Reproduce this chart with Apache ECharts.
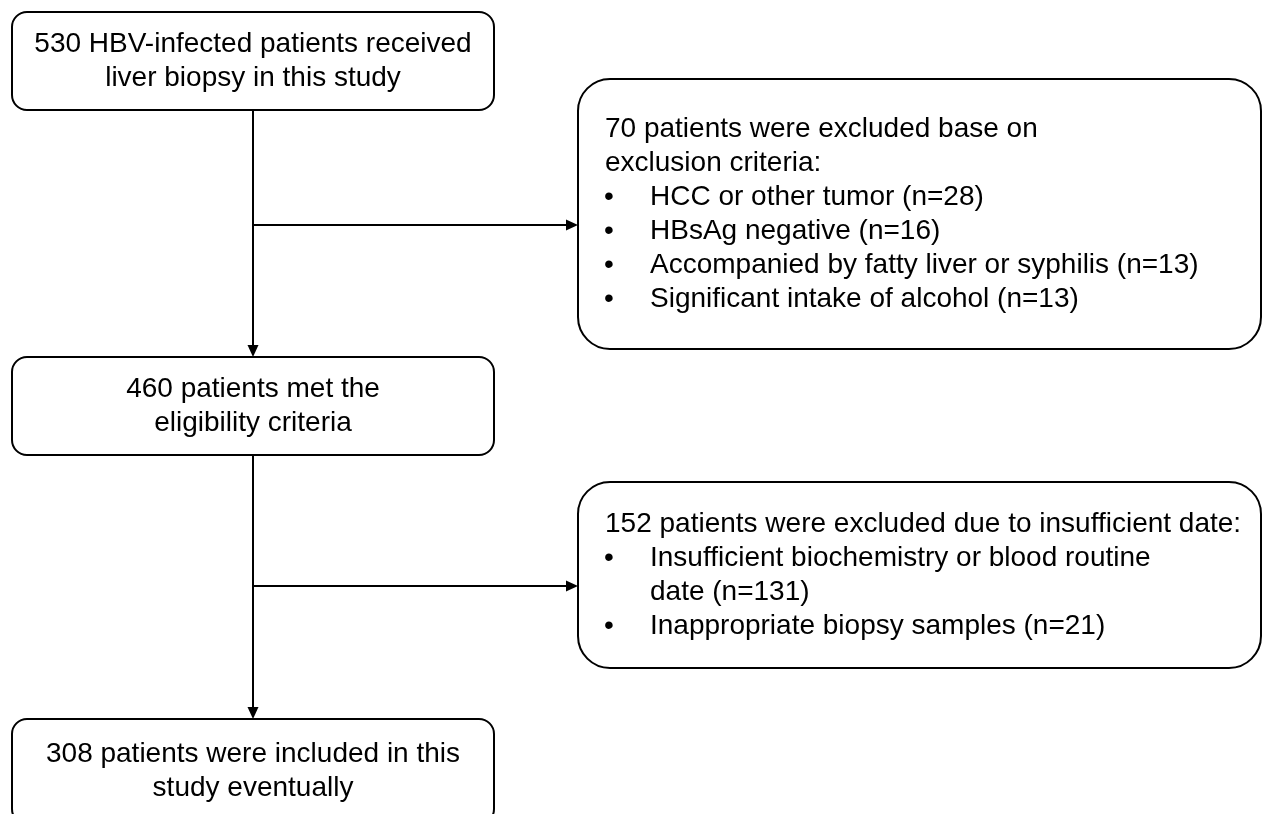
<!DOCTYPE html>
<html>
<head>
<meta charset="utf-8">
<title>Study flow</title>
<script src="https://cdn.jsdelivr.net/npm/echarts@6/dist/echarts.min.js"></script>
<style>
    html, body { margin: 0; padding: 0; background: #fff; }
    #chart { width: 1262px; height: 814px; }
</style>
</head>
<body>
<div id="chart"></div>
<script>
// main steps (left column)
var stepLabels = [
    '530 HBV-infected patients received\nliver biopsy in this study',
    '460 patients met the\neligibility criteria',
    '308 patients were included in this\nstudy eventually'
];
var stepLeft = [12, 12, 12];
var stepRight = [494, 494, 494];
var stepTop = [12, 357, 719];
var stepBottom = [110, 455, 824];

// exclusion boxes (right column)
var exclLines = [
    ['70 patients were excluded base on',
     'exclusion criteria:',
     '• HCC or other tumor (n=28)',
     '• HBsAg negative (n=16)',
     '• Accompanied by fatty liver or syphilis (n=13)',
     '• Significant intake of alcohol (n=13)'],
    ['152 patients were excluded due to insufficient date:',
     '• Insufficient biochemistry or blood routine',
     '  date (n=131)',
     '• Inappropriate biopsy samples (n=21)']
];
var exclLeft = [578, 578];
var exclRight = [1261, 1261];
var exclTop = [79, 482];
var exclBottom = [349, 668];

// arrows: start and end (tip)
var arrowFrom = [[253, 110], [253, 225], [253, 455], [253, 586]];
var arrowTo = [[253, 357], [578, 225], [253, 719], [578, 586]];

var FONT = '28px "Liberation Sans", Arial, sans-serif';
var LINE_H = 34;

var chart = echarts.init(document.getElementById('chart'));

let stepData = stepLabels.map((t, i) => [stepLeft[i], stepTop[i], stepRight[i], stepBottom[i], i]);
let exclData = exclLines.map((t, i) => [exclLeft[i], exclTop[i], exclRight[i], exclBottom[i], i]);
let arrowData = arrowFrom.map((p, i) => [p[0], p[1], arrowTo[i][0], arrowTo[i][1]]);

function boxRect(api, r) {
    let p0 = api.coord([api.value(0), api.value(1)]);
    let p1 = api.coord([api.value(2), api.value(3)]);
    return {
        x: p0[0], y: p0[1], w: p1[0] - p0[0], h: p1[1] - p0[1],
        shape: { x: p0[0], y: p0[1], width: p1[0] - p0[0], height: p1[1] - p0[1], r: r }
    };
}

function renderStep(params, api) {
    let b = boxRect(api, 15);
    let idx = api.value(4);
    return {
        type: 'group',
        children: [{
            type: 'rect',
            shape: b.shape,
            style: { fill: '#fff', stroke: '#000', lineWidth: 2 }
        }, {
            type: 'text',
            style: {
                text: stepLabels[idx],
                x: b.x + b.w / 2, y: b.y + b.h / 2,
                align: 'center', verticalAlign: 'middle',
                font: FONT, lineHeight: LINE_H, fill: '#000'
            }
        }]
    };
}

function renderExcl(params, api) {
    let b = boxRect(api, 32);
    let lines = exclLines[api.value(4)];
    let x0 = b.x + 27, xt = b.x + 72;
    let y0 = b.y + b.h / 2 - (lines.length - 1) * LINE_H / 2;
    let children = [{
        type: 'rect',
        shape: b.shape,
        style: { fill: '#fff', stroke: '#000', lineWidth: 2 }
    }];
    lines.forEach((ln, k) => {
        let y = y0 + k * LINE_H;
        let txt = ln, x = x0;
        if (ln.indexOf('• ') === 0) {
            children.push({
                type: 'text',
                style: { text: '•', x: x0 - 1, y: y, verticalAlign: 'middle', font: FONT, fill: '#000' }
            });
            txt = ln.slice(2); x = xt;
        } else if (ln.indexOf('  ') === 0) {
            txt = ln.slice(2); x = xt;
        }
        children.push({
            type: 'text',
            style: { text: txt, x: x, y: y, verticalAlign: 'middle', font: FONT, fill: '#000' }
        });
    });
    return { type: 'group', children: children };
}

function renderArrow(params, api) {
    let a = api.coord([api.value(0), api.value(1)]);
    let b = api.coord([api.value(2), api.value(3)]);
    let dx = b[0] - a[0], dy = b[1] - a[1];
    let len = Math.sqrt(dx * dx + dy * dy);
    let ux = dx / len, uy = dy / len;
    let hl = 12, hw = 5.5;
    let bx = b[0] - ux * hl, by = b[1] - uy * hl;
    return {
        type: 'group',
        children: [{
            type: 'line',
            shape: { x1: a[0], y1: a[1], x2: bx, y2: by },
            style: { stroke: '#000', lineWidth: 2 }
        }, {
            type: 'polygon',
            shape: { points: [[b[0], b[1]], [bx - uy * hw, by + ux * hw], [bx + uy * hw, by - ux * hw]] },
            style: { fill: '#000' }
        }]
    };
}

var option = {
    animation: false,
    backgroundColor: '#fff',
    grid: { left: 0, right: 0, top: 0, bottom: 0 },
    xAxis: { type: 'value', min: 0, max: 1262, show: false },
    yAxis: { type: 'value', min: 0, max: 814, inverse: true, show: false },
    series: [
        { type: 'custom', renderItem: renderArrow, data: arrowData, clip: false, z: 1 },
        { type: 'custom', renderItem: renderStep, data: stepData, clip: false, z: 2 },
        { type: 'custom', renderItem: renderExcl, data: exclData, clip: false, z: 2 }
    ]
};
chart.setOption(option);
</script>
</body>
</html>
